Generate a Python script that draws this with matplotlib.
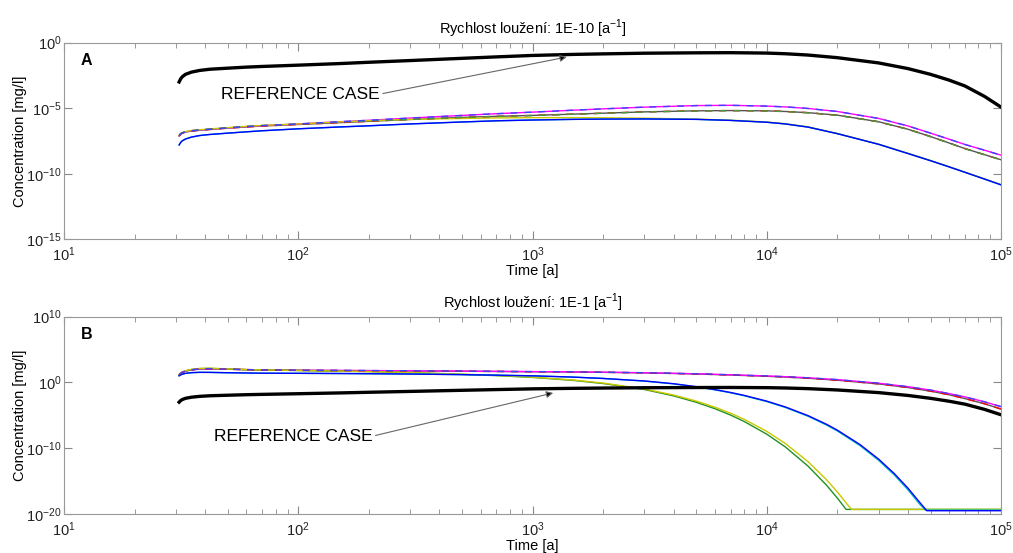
import matplotlib
matplotlib.use('Agg')
import matplotlib.pyplot as plt
import numpy as np
from matplotlib.ticker import LogLocator, NullLocator

plt.rcParams['font.family'] = ['Liberation Sans', 'DejaVu Sans']
plt.rcParams['mathtext.fontset'] = 'custom'
plt.rcParams['mathtext.rm'] = 'Liberation Sans'
plt.rcParams['axes.unicode_minus'] = False

# ---- data: concentrations given as log10 [mg/l] ----
t_grid = [31, 31.5, 32, 33, 35, 38, 42, 50, 60, 70,
          100, 150, 200, 300, 500, 700,
          1000, 1500, 2000, 3000, 5000, 7000,
          10000, 12000, 15000, 20000, 30000, 40000, 50000, 60000, 70000, 85000, 100000]

# reference case (same curve in both panels)
ref_log = [-3.0, -2.75, -2.6, -2.42, -2.25, -2.12, -2.03, -1.95, -1.87, -1.82,
           -1.72, -1.6, -1.5, -1.37, -1.2, -1.09,
           -0.98, -0.9, -0.86, -0.81, -0.78, -0.77,
           -0.8, -0.85, -0.95, -1.15, -1.55, -1.98, -2.42, -2.86, -3.3, -4.1, -4.92]

# panel A: leaching rate 1E-10
a_magenta = [-7.1, -6.95, -6.88, -6.8, -6.72, -6.66, -6.6, -6.5, -6.4, -6.33,
             -6.2, -6.03, -5.92, -5.75, -5.55, -5.42,
             -5.3, -5.15, -5.05, -4.92, -4.8, -4.78,
             -4.84, -4.9, -5.02, -5.25, -5.78, -6.35, -6.9, -7.36, -7.76, -8.2, -8.58]
a_gray = [-7.12, -6.97, -6.9, -6.82, -6.74, -6.68, -6.62, -6.52, -6.43, -6.36,
          -6.24, -6.1, -6.0, -5.86, -5.7, -5.62,
          -5.55, -5.45, -5.38, -5.28, -5.2, -5.18,
          -5.2, -5.25, -5.34, -5.53, -6.03, -6.6, -7.16, -7.65, -8.07, -8.54, -8.93]
a_green = [-7.05, -6.93, -6.86, -6.79, -6.71, -6.65, -6.59, -6.49, -6.39, -6.32,
           -6.21, -6.06, -5.97, -5.86, -5.71, -5.63,
           -5.56, -5.46, -5.39, -5.29, -5.21, -5.19,
           -5.21, -5.26, -5.35, -5.54, -6.04, -6.61, -7.17, -7.66, -8.08, -8.55, -8.94]
a_yellow = [-7.05, -6.92, -6.85, -6.78, -6.7, -6.64, -6.58, -6.48, -6.38, -6.31,
            -6.2, -6.04, -5.95, -5.85, -5.78, -5.74,
            -5.72, -5.72, -5.73, -5.76, -5.83, -5.91,
            -6.05, -6.18, -6.42, -6.92, -7.73, -8.43, -8.98, -9.45, -9.86, -10.38, -10.82]
a_blue = [-7.8, -7.6, -7.48, -7.35, -7.2, -7.08, -7.0, -6.9, -6.8, -6.72,
          -6.57, -6.43, -6.34, -6.2, -6.05, -5.96,
          -5.9, -5.85, -5.83, -5.82, -5.85, -5.93,
          -6.07, -6.2, -6.44, -6.94, -7.75, -8.45, -9.0, -9.47, -9.88, -10.4, -10.84]

# panel B: leaching rate 1E-1
b_magenta = [1.15, 1.4, 1.55, 1.72, 1.92, 2.05, 2.08, 2.02, 1.95, 1.9,
             1.85, 1.82, 1.8, 1.76, 1.72, 1.68,
             1.64, 1.6, 1.55, 1.47, 1.31, 1.16,
             0.98, 0.87, 0.7, 0.42, -0.12, -0.65, -1.17, -1.7, -2.2, -2.95, -3.68]
b_gray = [1.12, 1.38, 1.53, 1.7, 1.9, 2.03, 2.06, 2.0, 1.93, 1.88,
          1.83, 1.8, 1.78, 1.74, 1.7, 1.66,
          1.62, 1.58, 1.53, 1.45, 1.28, 1.12,
          0.93, 0.81, 0.63, 0.33, -0.23, -0.78, -1.33, -1.88, -2.45, -3.25, -4.05]

t_early = [31, 31.5, 32, 33, 35, 38, 42, 50, 60, 70,
           100, 150, 200, 300, 500, 700,
           1000, 1500, 2000, 3000, 4000, 5000, 6000, 7000, 8000,
           10000, 12000, 15000, 18000, 20000]

t_b_blue = t_early + [25000, 30000, 35000, 40000, 45000, 48200, 100000]
b_blue = [1.0, 1.15, 1.25, 1.38, 1.48, 1.53, 1.52, 1.47, 1.43, 1.4,
          1.38, 1.35, 1.32, 1.27, 1.18, 1.1,
          1.0, 0.8, 0.6, 0.22, -0.2, -0.65, -1.09, -1.53, -1.97,
          -2.85, -3.73, -5.05, -6.37, -7.25,
          -9.45, -11.65, -13.85, -16.05, -18.25, -19.5, -19.5]
t_b_cyan = t_early + [25000, 30000, 35000, 40000, 45000, 47500, 100000]
b_cyan = [1.0, 1.15, 1.25, 1.38, 1.48, 1.53, 1.52, 1.47, 1.43, 1.4,
          1.38, 1.35, 1.32, 1.27, 1.18, 1.1,
          1.0, 0.8, 0.6, 0.2, -0.23, -0.68, -1.13, -1.58, -2.03,
          -2.92, -3.81, -5.15, -6.49, -7.38,
          -9.61, -11.84, -14.07, -16.3, -18.53, -19.4, -19.4]

t_b_yellow = t_early + [22000, 23000, 100000]
b_yellow = [1.15, 1.45, 1.6, 1.78, 1.98, 2.12, 2.15, 2.05, 1.95, 1.9,
            1.82, 1.72, 1.65, 1.5, 1.25, 1.07,
            0.8, 0.35, -0.1, -1.0, -1.92, -2.84, -3.76, -4.68, -5.6,
            -7.44, -9.28, -12.04, -14.8, -16.64,
            -18.48, -19.3, -19.3]
t_b_green = t_early + [21800, 100000]
b_green = [1.12, 1.42, 1.57, 1.75, 1.95, 2.1, 2.13, 2.03, 1.94, 1.89,
           1.81, 1.71, 1.64, 1.48, 1.22, 1.03,
           0.76, 0.3, -0.17, -1.08, -2.05, -3.02, -3.99, -4.96, -5.93,
           -7.87, -9.81, -12.72, -15.63, -17.57,
           -19.3, -19.3]


def c(vals):
    return 10.0 ** np.array(vals)


def style_axes(ax, ylim, yticks):
    ax.set_xscale('log')
    ax.set_yscale('log')
    ax.set_xlim(10, 1e5)
    ax.set_ylim(*ylim)
    ax.set_yticks(yticks)
    ax.yaxis.set_minor_locator(NullLocator())
    ax.xaxis.set_major_locator(LogLocator(base=10, numticks=10))
    ax.xaxis.set_minor_locator(LogLocator(base=10, subs=np.arange(2, 10), numticks=50))
    for sp in ax.spines.values():
        sp.set_color('#999999')
    ax.tick_params(which='both', direction='in', top=True, right=True,
                   color='#888888', labelsize=10.5, labelcolor='#222222')
    ax.tick_params(which='major', length=6)
    ax.tick_params(which='minor', length=3.5)
    ax.tick_params(axis='y', pad=2)
    ax.tick_params(axis='x', pad=4.5)
    ax.set_xlabel('Time [a]', fontsize=10.5, labelpad=0)
    ax.set_ylabel('Concentration [mg/l]', fontsize=10.5)
    ax.yaxis.set_label_coords(-0.040, 0.5)


def ref_note(ax, xy, xytext):
    ax.annotate('REFERENCE CASE', xy=xy, xytext=xytext,
                fontsize=12.5, va='center', ha='left',
                arrowprops=dict(arrowstyle='-|>', ec='#666666', fc='k', lw=0.8,
                                mutation_scale=10, shrinkA=0, shrinkB=0,
                                relpos=(1.0, 0.55)))


fig = plt.figure(figsize=(10.13, 5.53), dpi=100)
axA = fig.add_axes([0.0632, 0.567, 0.925, 0.356])
axB = fig.add_axes([0.0632, 0.0705, 0.925, 0.357])
lw = 1.0
dash = (0, (5, 5))

# panel A
axA.plot(t_grid, c(a_gray), color='#555555', lw=lw)
axA.plot(t_grid, c(a_magenta), color='#ff00ff', lw=lw)
axA.plot(t_grid, c(a_yellow), color='#c8c800', lw=lw)
axA.plot(t_grid, c(a_blue), color='#00c0c0', lw=lw)
axA.plot(t_grid, c(a_blue), color='#0000ff', lw=lw)
axA.plot(t_grid, c(a_gray), color='#ff0000', lw=lw, ls=dash)
axA.plot(t_grid, c(a_green), color='#40a040', lw=lw, ls=dash)
axA.plot(t_grid, c(a_magenta), color='#4040ff', lw=lw, ls=dash)
axA.plot(t_grid, c(ref_log), color='k', lw=2.4)
style_axes(axA, (1e-15, 1e0), [1e-15, 1e-10, 1e-5, 1e0])
axA.set_title('Rychlost loužení: 1E-10 [a$^{-1}$]', fontsize=10.5, pad=6)
axA.text(0.018, 0.91, 'A', transform=axA.transAxes, fontsize=11.5,
         fontweight='bold', va='center')
ref_note(axA, (1400, 10 ** -1.1), (47, 10 ** -3.98))

# panel B
axB.plot(t_grid, c(b_gray), color='#555555', lw=lw)
axB.plot(t_grid, c(b_magenta), color='#ff00ff', lw=lw)
axB.plot(t_b_green, c(b_green), color='#209020', lw=lw)
axB.plot(t_b_yellow, c(b_yellow), color='#c8c800', lw=lw)
axB.plot(t_b_cyan, c(b_cyan), color='#00c0c0', lw=lw)
axB.plot(t_b_blue, c(b_blue), color='#0000ff', lw=lw)
axB.plot(t_grid, c(b_gray), color='#ff0000', lw=lw, ls=dash)
axB.plot(t_grid, c(b_magenta), color='#4040ff', lw=lw, ls=dash)
axB.plot(t_grid, c(ref_log), color='k', lw=2.4)
style_axes(axB, (1e-20, 1e10), [1e-20, 1e-10, 1e0, 1e10])
axB.set_title('Rychlost loužení: 1E-1 [a$^{-1}$]', fontsize=10.5, pad=6)
axB.text(0.018, 0.91, 'B', transform=axB.transAxes, fontsize=11.5,
         fontweight='bold', va='center')
ref_note(axB, (1225, 10 ** -1.6), (43.7, 10 ** -8.28))

fig.savefig('out.png', dpi=100)
